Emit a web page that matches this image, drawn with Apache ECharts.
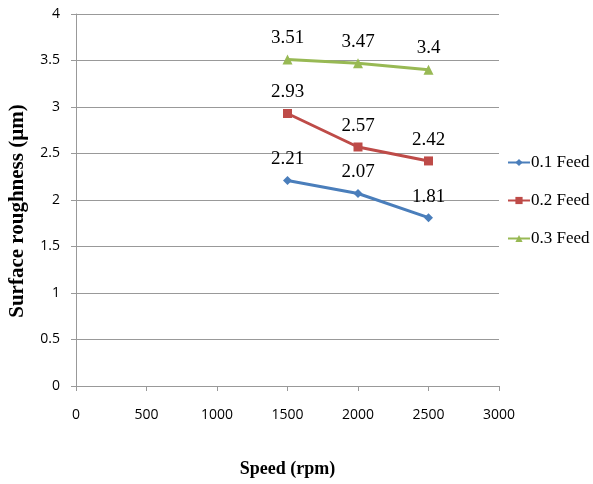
<!DOCTYPE html>
<html><head><meta charset="utf-8">
<script src="https://cdn.jsdelivr.net/npm/echarts@6/dist/echarts.min.js"></script>
<style>html,body{margin:0;padding:0;background:#fff}#c{width:593px;height:484px}</style>
</head><body><div id="c"></div>
<script>
const speeds = [1500, 2000, 2500];
const feed01 = [2.21, 2.07, 1.81];
const feed02 = [2.93, 2.57, 2.42];
const feed03 = [3.51, 3.47, 3.4];
const seriesNames = ['0.1 Feed', '0.2 Feed', '0.3 Feed'];
const colors = ['#4a7ebb', '#be4b48', '#98b954'];
const symbols = ['diamond', 'rect', 'triangle'];
const symbolSizes = [9, 9, 10];

const serif = '"Liberation Serif","DejaVu Serif",serif';
const sans = '"Open Sans","Liberation Sans",sans-serif';

const chart = echarts.init(document.getElementById('c'));
const all = [feed01, feed02, feed03];
chart.setOption({
  animation: false,
  grid: {left: 76, right: 94, top: 14, bottom: 98, containLabel: false, outerBoundsMode: 'none'},
  legend: {
    orient: 'vertical', left: 502, top: 149, itemGap: 21,
    itemWidth: 22, itemHeight: 9,
    textStyle: {fontFamily: serif, fontSize: 17, color: '#000', padding: [0,0,0,-4]},
    data: seriesNames
  },
  xAxis: {
    type: 'value', min: 0, max: 3000, interval: 500,
    name: 'Speed (rpm)', nameLocation: 'middle', nameGap: 74,
    nameTextStyle: {fontFamily: serif, fontWeight: 'bold', fontSize: 18, color: '#000'},
    axisLine: {show: true, lineStyle: {color: '#999'}},
    axisTick: {show: true, length: 5, lineStyle: {color: '#999'}},
    axisLabel: {fontFamily: sans, fontSize: 14, color: '#000', margin: 22,
      formatter: v => String(v)},
    splitLine: {show: false}
  },
  yAxis: {
    type: 'value', min: 0, max: 4, interval: 0.5,
    name: 'Surface roughness (µm)', nameLocation: 'middle', nameGap: 48,
    nameTextStyle: {fontFamily: serif, fontWeight: 'bold', fontSize: 21, color: '#000',
      padding: [0, 22, 0, 0]},
    axisLine: {show: true, lineStyle: {color: '#999'}},
    axisTick: {show: true, length: 5, lineStyle: {color: '#999'}},
    axisLabel: {fontFamily: sans, fontSize: 14, color: '#000', margin: 16},
    splitLine: {show: true, lineStyle: {color: '#999', width: 1}}
  },
  series: all.map((vals, i) => ({
    name: seriesNames[i], type: 'line',
    data: speeds.map((s, j) => [s, vals[j]]),
    symbol: symbols[i], symbolSize: symbolSizes[i],
    itemStyle: {color: colors[i]},
    lineStyle: {color: colors[i], width: 3},
    label: {show: true, position: 'top', distance: 7,
      fontFamily: serif, fontSize: 19, color: '#000',
      formatter: p => String(p.value[1])}
  }))
});
</script></body></html>
